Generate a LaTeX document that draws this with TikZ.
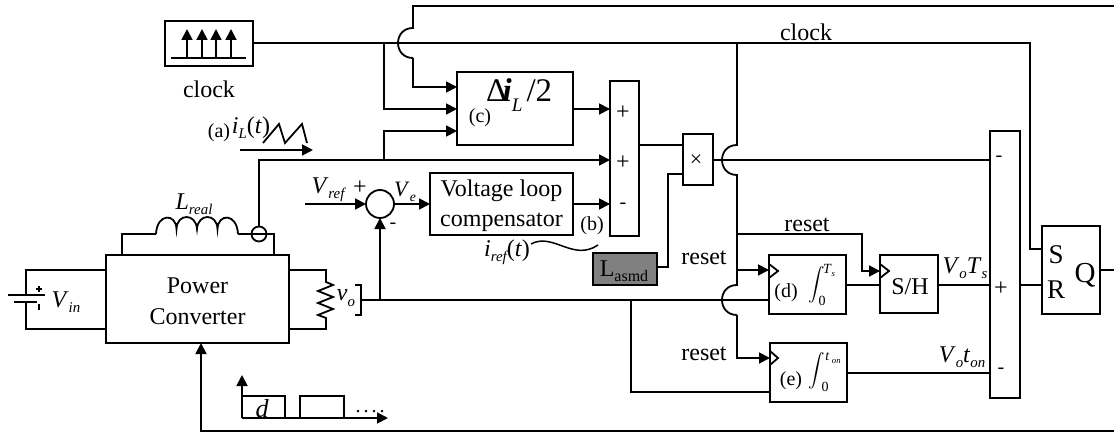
\documentclass[tikz,border=0pt]{standalone}
\usepackage{fontspec}
\setmainfont{Liberation Serif}
\usetikzlibrary{arrows.meta}
\newcommand{\fs}[1]{\fontsize{#1}{#1}\selectfont}
\newcommand{\lw}[1]{\raisebox{-0.22em}{\scalebox{0.62}{\itshape #1}}}
\newcommand{\bx}[7][plainbox]{\node[#1,minimum width={(#4-#2)*1pt},minimum height={(#5-#3)*1pt}] (#6) at ({(#2+#4)/2},{(#3+#5)/2}) {#7};}
\tikzset{
  wire/.style={line width=1.8pt,line join=miter},
  arr/.style={wire,-{Triangle[length=11pt,width=11pt]}},
  plainbox/.style={draw,line width=1.9pt,inner sep=0pt,outer sep=0pt,align=center,font=\fs{24}},
  graybox/.style={plainbox,fill=black!50},
  lab/.style={inner sep=0pt,outer sep=0pt,font=\fs{24}},
  small/.style={lab,font=\fs{20}},
  sign/.style={lab,font=\fs{20}},
  plus/.style={lab,font=\fs{24}},
  limit/.style={lab,font=\fs{14}},
}
\begin{document}
\begin{tikzpicture}[x=1pt,y=-1pt]
\useasboundingbox (0,0) rectangle (1114,433);
% boxes
\bx{165}{21}{253}{66}{clockbox}{}
\bx{457}{72}{573}{145}{halfbox}{}
\bx{610}{81}{639}{236}{sumA}{}
\bx{683}{134}{713}{185}{mulbox}{}
\bx{430}{173}{573}{235}{compbox}{\rule{0pt}{20pt}Voltage loop\\[6pt]compensator}
\bx[graybox]{593}{253}{657}{285}{lasmd}{}
\bx{106}{255}{289}{343}{power}{\rule{0pt}{21pt}Power\\[7pt]Converter}
\bx{769}{255}{846}{314}{intd}{}
\bx{880}{255}{938}{313}{sh}{}
\bx{770}{343}{847}{402}{inte}{}
\bx{990}{131}{1020}{398}{sumB}{}
\bx{1042}{226}{1100}{314}{sr}{}
% clock symbol
\coordinate (cb1) at (171,58); \coordinate (cb2) at (246,58);
\draw[wire] (cb1) -- (cb2);
\foreach \n/\x in {a/187,b/202,c/216,d/231}{
  \coordinate (ct\n) at (\x,29); \coordinate (cs\n) at (\x,58);
  \draw[wire,-{Triangle[length=11pt,width=11pt]}] (cs\n) -- (ct\n);
}
\node[lab] (clocklab) at (209,89) {clock};
\node[lab] (clocklab2) at (806,32) {clock};
% junction coordinates
\coordinate (clkJ1) at (384,43);
\coordinate (clkJ2) at (737,43);
\coordinate (clkC) at (1030,43);
\coordinate (srS) at (1042,249);
\coordinate (topE) at (1114,6);
\coordinate (topC) at (413,6);
\coordinate (jt1) at (413,28);
\coordinate (jt2) at (413,58);
\coordinate (hIn1) at (457,87);
\coordinate (hIn2) at (457,109);
\coordinate (hIn3) at (457,131);
\coordinate (sumIn1) at (610,109);
\coordinate (hOut) at (573,109);
\coordinate (senseTop) at (259,160);
\coordinate (iJ) at (384,160);
\coordinate (sumIn2) at (610,160);
\coordinate (sumIn3) at (610,204);
\coordinate (compOut) at (573,204);
\coordinate (compIn) at (430,204);
% clock net
\draw[wire] (clockbox.east |- clkJ1) -- (clkJ2) -- (clkC) |- (srS);
\draw[arr] (clkJ1) |- (hIn2);
\draw[wire] (topE) -- (topC) -- (jt1) .. controls (393,28) and (393,58) .. (jt2);
\draw[arr] (jt2) |- (hIn1);
% current sense
\draw[wire] (power.north -| 122,255) -- (122,234) -- (156,234);
\node[lab] (lreal) at (194,204) {\textit{L}\lw{real}};
\coordinate (lStart) at (156,234);
\coordinate (lEnd) at (238,234);
\draw[wire] (lStart)
  .. controls (157,213) and (176,213) .. (176.5,229)
  .. controls (177,213) and (196,213) .. (197,229)
  .. controls (198,213) and (217,213) .. (217.5,229)
  .. controls (218,213) and (237,213) .. (lEnd);
\draw[wire] (lEnd) -- (274,234) -- (274,255);
\node[draw,circle,line width=1.8pt,fill=none,minimum size=15pt,inner sep=0pt,outer sep=0pt] (sense) at (259,234) {};
\draw[arr] (sense.north) -- (senseTop) -- (sumIn2);
\draw[arr] (iJ) |- (hIn3);
\draw[arr] (hOut) -- (sumIn1);
\draw[arr] (compOut) -- (sumIn3);
\coordinate (ia1) at (240,150); \coordinate (ia2) at (313,150);
\draw[arr] (ia1) -- (ia2);
\coordinate (sw0) at (263,143);
\draw[wire] (sw0) -- (279,124) -- (285,143) -- (302,124) -- (307,143);
\node[small] (alab) at (219,133) {(a)};
\node[lab] (ilab) at (251,128) {\textit{i}\lw{L}(\textit{t})};
% sum junction
\node[draw,circle,line width=1.8pt,minimum size=28pt,inner sep=0pt,outer sep=0pt] (cmp) at (380,204) {};
\coordinate (vrefS) at (305,204);
\draw[arr] (vrefS) -- (cmp.west);
\draw[arr] (cmp.east) -- (compIn);
\node[lab] (vref) at (328,190) {\textit{V}\lw{ref}};
\node[plus] (cplus) at (360,188) {+};
\node[lab,font=\fs{22}] (vel) at (405,192) {\textit{V}\lw{e}};
\node[sign] (cminus) at (393,226) {-};
% vo net
\coordinate (voL) at (361,300);
\coordinate (voJ) at (380,300);
\coordinate (voJ2) at (631,300);
\coordinate (dIn) at (769,300);
\draw[wire] (voL) -- (voJ) -- (voJ2) -- (dIn);
\draw[arr] (voJ) -- (cmp.south);
\coordinate (eIn) at (770,392);
\draw[wire] (voJ2) |- (eIn);
% power left side
\coordinate (bt) at (26,295); \coordinate (bb) at (26,302);
\draw[wire] (power.west |- 0,270) -- (26,270) -- (bt);
\draw[wire] (power.west |- 0,329) -- (26,329) -- (bb);
\coordinate (p1a) at (8,295); \coordinate (p1b) at (45,295);
\coordinate (p2a) at (14,302); \coordinate (p2b) at (37,302);
\draw[wire] (p1a) -- (p1b); \draw[wire] (p2a) -- (p2b);
\coordinate (pl1) at (39,286); \coordinate (pl2) at (39,292); \coordinate (pl3) at (36,289); \coordinate (pl4) at (42,289);
\draw[line width=1.4pt] (pl1) -- (pl2); \draw[line width=1.4pt] (pl3) -- (pl4);
\coordinate (mi1) at (39,304); \coordinate (mi2) at (39,310);
\draw[line width=1.6pt] (mi1) -- (mi2);
\node[lab] (vin) at (66,302) {\textit{V}\lw{in}};
% power right side
\coordinate (rt) at (326,270); \coordinate (rb) at (326,329);
\draw[wire] (power.east |- rt) -- (rt) -- (326,282) -- (333,285) -- (318,291) -- (333,297) -- (318,303) -- (333,309) -- (318,315) -- (326,318) -- (rb) -- (power.east |- rb);
\node[lab] (volab) at (346,298) {\textit{v}\lw{o}};
\coordinate (br1) at (355,285); \coordinate (br2) at (355,315);
\draw[wire] (br1) -- (361,285) -- (361,315) -- (br2);
% vertical reset line
\coordinate (j1a) at (737,145); \coordinate (j1b) at (737,175);
\coordinate (j2a) at (737,285); \coordinate (j2b) at (737,315);
\coordinate (rs1) at (737,234); \coordinate (rs2) at (737,270);
\draw[wire] (clkJ2) -- (j1a) .. controls (717,145) and (717,175) .. (j1b) -- (j2a) .. controls (717,285) and (717,315) .. (j2b);
\coordinate (eClk) at (770,358);
\draw[arr] (j2b) |- (eClk);
\coordinate (dClk) at (769,270);
\draw[arr] (rs2) -- (dClk);
\coordinate (shClk) at (880,271);
\draw[arr] (rs1) -| (862,262) |- (shClk);
\node[lab] (reset1) at (704,258) {reset};
\node[lab] (reset2) at (704,354) {reset};
\node[lab] (reset3) at (807,225) {reset};
% clock triangles on blocks
\draw[wire] (intd.west |- 0,264) -- ++(9,7) -- ++(-9,7);
\draw[wire] (sh.west |- 0,264) -- ++(9,7) -- ++(-9,7);
\draw[wire] (inte.west |- 0,351) -- ++(8,7) -- ++(-8,7);
% multiplier
\draw[wire] (sumA.east |- 0,145) -- (mulbox.west |- 0,145);
\draw[wire] (mulbox.east |- 0,160) -- (sumB.west |- 0,160);
\draw[wire] (lasmd.east |- 0,267) -- (668,267) -- (668,174) -- (mulbox.west |- 0,174);
% integrators etc
\draw[wire] (intd.east |- 0,285) -- (sh.west |- 0,285);
\draw[wire] (sh.east |- 0,285) -- (sumB.west |- 0,285);
\draw[wire] (inte.east |- 0,373) -- (sumB.west |- 0,373);
\draw[wire] (sumB.east |- 0,285) -- (sr.west |- 0,285);
\coordinate (qEnd) at (1114,270);
\draw[wire] (sr.east |- qEnd) -- (qEnd);
% feedback
\coordinate (fbE) at (1114,431);
\coordinate (fbC) at (201,431);
\draw[arr] (fbE) -- (fbC) -- (fbC |- power.south);
% d waveform
\coordinate (dO) at (242,418);
\coordinate (dUp) at (242,375);
\coordinate (dRight) at (388,418);
\draw[arr] (dO) -- (dUp);
\draw[arr] (dO) -- (dRight);
\coordinate (wa) at (242,396);
\draw[wire] (wa) -- (285,396) -- (285,418);
\coordinate (wb) at (300,418);
\draw[wire] (wb) -- (300,396) -- (344,396) -- (344,418);
\node[lab,font=\fs{26}\itshape] (dlab) at (262,409) {d};
\node[lab,font=\fs{20}] (dots) at (370,412) {.\kern3pt.\kern3pt.\kern3pt.};
% labels
\node[lab,anchor=west] (halflab) at (486,95) {\fs{33}Δ\kern-4.5pt\textbf{\textit{i}}\raisebox{-0.32em}{\scalebox{0.58}{\itshape L}}\kern4pt/2};
\node[small] (clab) at (480,118) {(c)};
\node[small] (blab) at (592,226) {(b)};
\node[plus] (s1) at (623,113) {+};
\node[plus] (s2) at (623,163) {+};
\node[sign] (s3) at (623,206) {-};
\node[lab,font=\fs{22}] (x) at (696,161) {×};
\node[lab] (ireflab) at (507,252) {\textit{i}\lw{ref}(\textit{t})};
\coordinate (c1) at (531,244); \coordinate (c2) at (598,245);
\draw[line width=1.5pt] (c1) .. controls (553,232) and (573,262) .. (c2);
\node[lab] (lasmdlab) at (624,271) {L\raisebox{-0.2em}{\fs{16}asmd}};
\node[small] (dl) at (786,293) {(d)};
\node[small] (el) at (791,381) {(e)};
\node[lab] (int1) at (817,285) {\scalebox{1.65}{\fs{10}$\displaystyle\int$}};
\node[limit] (int1lo) at (822,301) {0};
\node[limit] (int1hi) at (829,270) {\textit{T}\lw{s}};
\node[lab] (int2) at (817,371) {\scalebox{1.65}{\fs{10}$\displaystyle\int$}};
\node[limit] (int2lo) at (825,387) {0};
\node[limit] (int2hi) at (833,358) {\textit{t}\,\lw{on}};
\node[lab] (shlab) at (910,287) {S/H};
\node[lab] (vots) at (965,268) {\textit{V}\lw{o}\textit{T}\lw{s}};
\node[lab] (voton) at (962,357) {\textit{V}\lw{o}\textit{t}\lw{on}};
\node[sign] (b1) at (999,159) {-};
\node[plus] (b2) at (1001,289) {+};
\node[sign] (b3) at (1001,371) {-};
\node[lab,font=\fs{27}] (sl) at (1056,255) {S};
\node[lab,font=\fs{27}] (rl) at (1056,290) {R};
\node[lab,font=\fs{29}] (ql) at (1085,275) {Q};
\end{tikzpicture}
\end{document}
